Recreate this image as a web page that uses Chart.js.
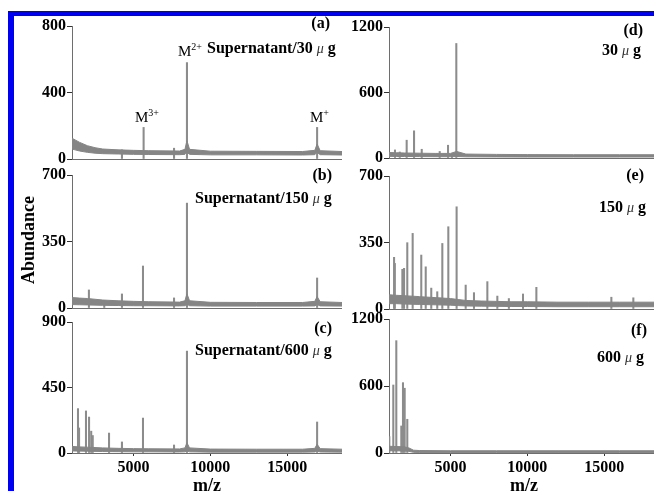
<!DOCTYPE html>
<html><head><meta charset="utf-8">
<script src="https://cdn.jsdelivr.net/npm/chart.js@4.4.1/dist/chart.umd.min.js"></script>
<style>
html,body{margin:0;padding:0;background:#fff;width:654px;height:491px;overflow:hidden;position:relative;font-family:"Liberation Serif","Times New Roman",serif;}
canvas{position:absolute;}
.t{position:absolute;font-weight:bold;font-size:16px;line-height:16px;white-space:nowrap;color:#000;}
.t i{font-weight:normal;font-size:14px;color:#333;}
.m{position:absolute;font-size:15px;line-height:15px;white-space:nowrap;color:#000;}
.m span{font-size:10px;position:relative;top:-6px;}
.bar{position:absolute;background:#0000f0;}
</style></head>
<body>
<div class="bar" style="left:8px;top:11px;width:646px;height:5px"></div>
<div class="bar" style="left:8px;top:11px;width:6px;height:480px"></div>

<canvas id="pa" width="326" height="157" style="left:16px;top:14px"></canvas>
<canvas id="pb" width="326" height="157" style="left:16px;top:163px"></canvas>
<canvas id="pc" width="326" height="187" style="left:16px;top:310px"></canvas>
<canvas id="pd" width="323" height="155" style="left:336px;top:15px"></canvas>
<canvas id="pe" width="323" height="157" style="left:336px;top:164px"></canvas>
<canvas id="pf" width="323" height="190" style="left:336px;top:307px"></canvas>

<div class="t" style="right:324px;top:15px">(a)</div>
<div class="t" style="left:207px;top:40px">Supernatant/30 <i>μ</i> g</div>
<div class="m" style="left:135px;top:110px">M<span>3+</span></div>
<div class="m" style="left:178px;top:44px">M<span>2+</span></div>
<div class="m" style="left:310px;top:110px">M<span>+</span></div>
<div class="t" style="right:322px;top:167px">(b)</div>
<div class="t" style="left:195px;top:190px">Supernatant/150 <i>μ</i> g</div>
<div class="t" style="right:322px;top:320px">(c)</div>
<div class="t" style="left:195px;top:342px">Supernatant/600 <i>μ</i> g</div>
<div class="t" style="right:11px;top:22px">(d)</div>
<div class="t" style="left:602px;top:42px">30 <i>μ</i> g</div>
<div class="t" style="right:10px;top:167px">(e)</div>
<div class="t" style="left:599px;top:199px">150 <i>μ</i> g</div>
<div class="t" style="right:7px;top:322px">(f)</div>
<div class="t" style="left:597px;top:349px">600 <i>μ</i> g</div>
<div class="t" style="left:28px;top:240px;font-size:18px;line-height:18px;transform:translate(-50%,-50%) rotate(-90deg);">Abundance</div>

<script>
// ---- data (m/z, abundance) ----
const mzTicks = [5000, 10000, 15000];
const mzMin = 1000, mzMax = 18570;

// (a) Supernatant/30 ug
const aPeakMz = [4250, 5660, 7640, 8480, 16950];
const aPeakAb = [55, 190, 65, 580, 190];
const aBaseMz = [1000,1200,1500,2000,2500,3000,4000,5000,6000,8000,8350,8480,8650,10000,13000,16000,16800,16950,17150,18570];
const aBaseLo = [60,55,48,40,35,32,30,28,27,26,28,40,28,25,25,24,26,40,26,24];
const aBaseHi = [125,115,100,80,68,60,55,52,50,48,58,110,58,47,46,45,52,90,50,45];
const aTicks = [0, 400, 800];

// (b) Supernatant/150 ug
const bPeakMz = [2100, 3100, 4250, 5620, 7640, 8480, 16950];
const bPeakAb = [95, 40, 74, 221, 53, 552, 158];
const bBaseMz = [1000,1500,2000,3000,4000,5000,6000,8000,8350,8480,8650,10000,13000,16000,16800,16950,17150,18570];
const bBaseLo = [18,17,16,14,13,12,12,11,12,20,12,10,10,10,11,18,11,10];
const bBaseHi = [55,52,50,42,38,35,33,31,38,75,38,30,29,29,35,60,33,29];
const bTicks = [0, 350, 700];

// (c) Supernatant/600 ug
const cPeakMz = [1390, 1460, 1910, 2110, 2250, 2350, 3410, 4250, 5620, 7640, 8480, 16950];
const cPeakAb = [305, 172, 289, 247, 150, 120, 137, 76, 240, 55, 700, 213];
const cBaseMz = [1000,1500,2000,3000,4000,5000,6000,8000,8350,8480,8650,10000,13000,16000,16800,16950,17150,18570];
const cBaseLo = [14,13,12,10,9,8,8,7,8,15,8,6,6,6,7,14,7,6];
const cBaseHi = [45,42,40,35,32,30,29,28,35,70,35,27,26,26,32,60,30,26];
const cTicks = [0, 450, 900];

// (d) 30 ug
const dPeakMz = [1390, 1700, 2150, 2630, 3130, 4300, 4840, 5100, 5380];
const dPeakAb = [74, 55, 163, 249, 80, 60, 117, 40, 1049];
const dBaseMz = [1000,1500,2000,3000,4000,5000,5400,6000,8000,10000,13000,16000,18570];
const dBaseLo = [15,14,14,13,12,12,14,11,10,9,9,9,9];
const dBaseHi = [50,48,46,44,42,42,60,36,33,31,30,30,30];
const dTicks = [0, 600, 1200];

// (e) 150 ug
const ePeakMz = [1330,1380,1870,1980,2190,2540,3100,3390,3750,4140,4470,4860,5400,5990,6530,7400,8050,8800,9720,10590,15470,16900];
const ePeakAb = [272,240,209,214,349,398,284,222,110,91,345,433,538,126,86,144,68,55,79,114,62,59];
const eBaseMz = [1000,1500,2000,3000,4000,5000,5500,6000,7000,8000,9000,10000,12000,14000,16000,18570];
const eBaseLo = [28,28,26,24,22,20,18,16,15,14,13,13,12,12,12,12];
const eBaseHi = [75,72,70,65,60,55,50,45,42,40,38,38,36,36,36,36];
const eTicks = [0, 350, 700];

// (f) 600 ug
const fPeakMz = [1020, 1280, 1475, 1800, 1910, 2020, 2190];
const fPeakAb = [146, 609, 1006, 242, 630, 580, 302];
const fBaseMz = [1000,1500,2000,2300,2600,3000,5000,8000,12000,16000,18570];
const fBaseLo = [20,20,18,15,6,5,5,5,5,5,5];
const fBaseHi = [60,58,55,45,25,22,20,20,20,20,20];
const fTicks = [0, 600, 1200];

// ---- drawing ----
const GRAY = '#858585';
const PEAK = '#8c8c8c';
const AXIS = '#6e6e6e';
const FONT = 'Liberation Serif';

function pts(xs, ys){ return xs.map((x,i)=>({x:x, y:ys[i]})); }

function panel(id, pm, pa, bm, bl, bh, yt, yw, bottom){
  new Chart(document.getElementById(id), {
    type:'bar',
    data:{datasets:[
      {type:'line', data:pts(bm,bl), borderColor:GRAY, borderWidth:1, pointRadius:0, fill:false, tension:0},
      {type:'line', data:pts(bm,bh), borderColor:GRAY, borderWidth:1, pointRadius:0, fill:'-1', backgroundColor:GRAY, tension:0},
      {type:'bar', data:pts(pm,pa), backgroundColor:PEAK, borderWidth:0, barThickness:1.4, grouped:false}
    ]},
    options:{
      responsive:false, animation:false, devicePixelRatio:1,
      layout:{padding:{top:12,left:0,right:0,bottom:0}},
      plugins:{legend:{display:false}, tooltip:{enabled:false}},
      scales:{
        x:{type:'linear', min:mzMin, max:mzMax, offset:false,
           afterBuildTicks:s=>{ s.ticks = mzTicks.map(v=>({value:v})); },
           afterFit:s=>{ s.height = bottom ? 44 : 12; },
           border:{display:true, color:AXIS, width:1},
           grid:{display:bottom, drawOnChartArea:false, tickLength:3, color:'#333', offset:false},
           ticks:{display:bottom, autoSkip:false, maxRotation:0, padding:2, color:'#000',
                  font:{family:FONT, weight:'bold', size:16}, callback:v=>String(v)},
           title:{display:bottom, text:'m/z', color:'#000', padding:{top:0,bottom:0},
                  font:{family:FONT, weight:'bold', size:18}}
        },
        y:{min:yt[0], max:yt[yt.length-1],
           afterBuildTicks:s=>{ s.ticks = yt.map(v=>({value:v})); },
           afterFit:s=>{ s.width = yw; },
           border:{display:true, color:AXIS, width:1},
           grid:{display:true, drawOnChartArea:false, tickLength:5, color:'#333'},
           ticks:{padding:1, color:'#000', font:{family:FONT, weight:'bold', size:16}, callback:v=>String(v)}
        }
      }
    }
  });
}

panel('pa', aPeakMz, aPeakAb, aBaseMz, aBaseLo, aBaseHi, aTicks, 56, false);
panel('pb', bPeakMz, bPeakAb, bBaseMz, bBaseLo, bBaseHi, bTicks, 56, false);
panel('pc', cPeakMz, cPeakAb, cBaseMz, cBaseLo, cBaseHi, cTicks, 56, true);
panel('pd', dPeakMz, dPeakAb, dBaseMz, dBaseLo, dBaseHi, dTicks, 53, false);
panel('pe', ePeakMz, ePeakAb, eBaseMz, eBaseLo, eBaseHi, eTicks, 53, false);
panel('pf', fPeakMz, fPeakAb, fBaseMz, fBaseLo, fBaseHi, fTicks, 53, true);
</script>
</body></html>
